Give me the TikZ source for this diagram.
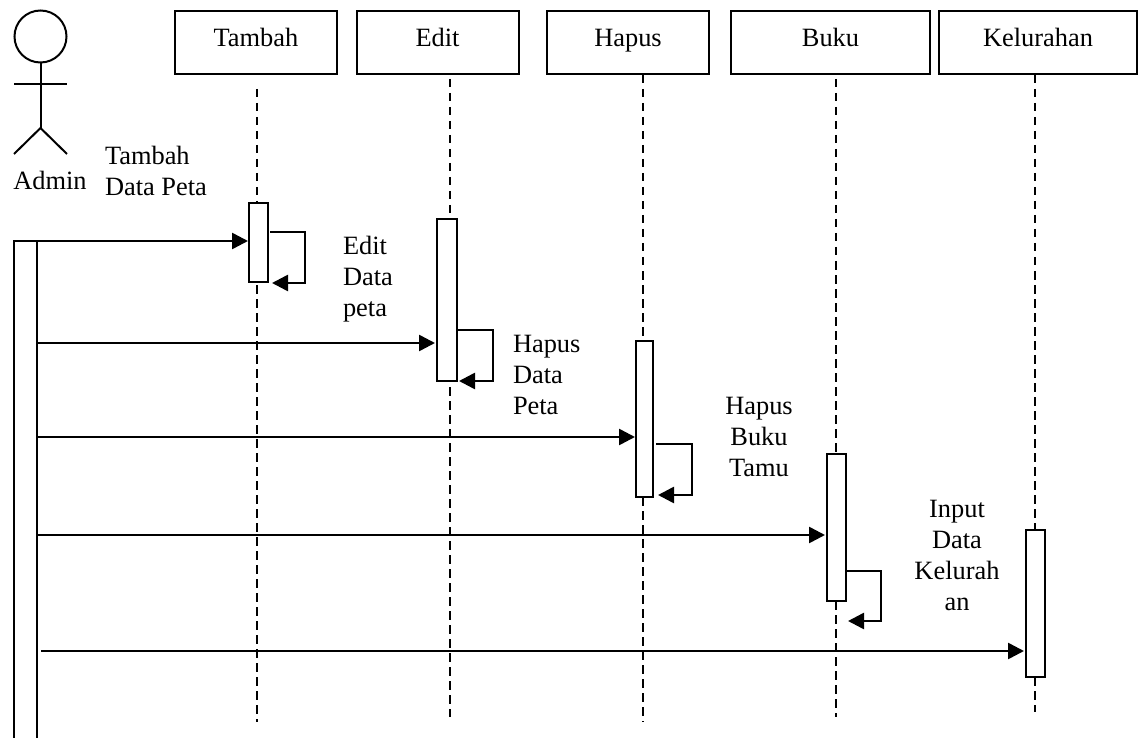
\documentclass[tikz,border=0pt]{standalone}
\usepackage{fontspec}
\setmainfont{Liberation Serif}
\usetikzlibrary{arrows.meta}
\tikzset{
  x=1pt,y=-1pt,
  base line/.style={line width=2pt,black},
  objbox/.style={draw,base line,fill=white,inner sep=0pt,outer sep=0pt,minimum width=#1,minimum height=63pt,text height=18pt,text depth=10pt,font=\fontsize{26.4}{31}\selectfont},
  actbox/.style={draw,base line,fill=white,inner sep=0pt,outer sep=0pt,minimum width=#1},
  lifeline/.style={base line,dash pattern=on 8.5pt off 5.5pt},
  msg/.style={line width=2.6pt,-{Triangle[length=16pt,width=16pt]},shorten >=1pt},
  selfmsg/.style={line width=2.6pt,-{Triangle[length=16pt,width=16pt]}},
  lbl/.style={inner sep=0pt,outer sep=0pt,font=\fontsize{26.4}{31}\selectfont},
}
\begin{document}
\begin{tikzpicture}
\useasboundingbox (0,0) rectangle (1138,738);
% object boxes
\node[objbox=162pt] (tambah) at (256,42.5) {Tambah};
\node[objbox=162pt] (edit) at (437.5,42.5) {Edit};
\node[objbox=162pt] (hapus) at (628,42.5) {Hapus};
\node[objbox=199pt] (buku) at (830.5,42.5) {Buku};
\node[objbox=198pt] (kel) at (1038,42.5) {Kelurahan};
% lifeline tops and ends
\coordinate (t1) at (257,89);
\coordinate (t2) at (450,79);
\coordinate (t3) at (643,75);
\coordinate (t4) at (836,79);
\coordinate (t5) at (1035,75);
\coordinate (e1) at (257,722);
\coordinate (e2) at (450,717);
\coordinate (e3) at (643,722);
\coordinate (e4) at (836,717);
\coordinate (e5) at (1035,712);
% activation bars
\node[actbox=19pt,minimum height=79pt] (a1) at (258.5,242.5) {};
\node[actbox=20pt,minimum height=162pt] (a2) at (447,300) {};
\node[actbox=17pt,minimum height=156pt] (a3) at (644.5,419) {};
\node[actbox=19pt,minimum height=147pt] (a4) at (836.5,527.5) {};
\node[actbox=19pt,minimum height=147pt] (a5) at (1035.5,603.5) {};
\node[actbox=23pt,minimum height=500pt] (adm) at (25.5,491) {};
% lifelines
\draw[lifeline] (t1) -- (t1 |- a1.north);
\draw[lifeline] (t1 |- a1.south) ++(0,3) -- (e1);
\draw[lifeline] (t2) -- (t2 |- a2.north);
\draw[lifeline] (t2 |- a2.south) ++(0,6) -- (e2);
\draw[lifeline] (t3) -- (t3 |- a3.north);
\draw[lifeline] (t3 |- a3.south) -- (e3);
\draw[lifeline] (t4) -- (t4 |- a4.north);
\draw[lifeline] (t4 |- a4.south) -- (e4);
\draw[lifeline] (t5) -- (t5 |- a5.north);
\draw[lifeline] (t5 |- a5.south) -- (e5);
% actor
\node[draw,base line,circle,inner sep=0pt,outer sep=0pt,minimum size=52pt] (head) at (40.5,36.5) {};
\coordinate (hip) at (40.5,128);
\coordinate (armL) at (14,84);
\coordinate (armR) at (67,84);
\coordinate (legL) at (14,154);
\coordinate (legR) at (67,154);
\draw[base line] (head.south) -- (hip);
\draw[base line] (armL) -- (armR);
\draw[base line] (legL) -- (hip) -- (legR);
\node[lbl,anchor=base] (admin) at (50,190) {Admin};
% messages
\coordinate (m1) at (17,241);
\coordinate (m2) at (37,343);
\coordinate (m3) at (37,437);
\coordinate (m4) at (37,535);
\coordinate (m5) at (41,651);
\draw[msg] (m1) -- (m1 -| a1.west);
\draw[msg,shorten >=2pt] (m2) -- (m2 -| a2.west);
\draw[msg] (m3) -- (m3 -| a3.west);
\draw[msg,shorten >=2pt] (m4) -- (m4 -| a4.west);
\draw[msg,shorten >=2pt] (m5) -- (m5 -| a5.west);
% self messages
\coordinate (s1a) at (270,232); \coordinate (s1b) at (305,283); \coordinate (s1c) at (272,283);
\coordinate (s2a) at (458,330); \coordinate (s2b) at (493,381); \coordinate (s2c) at (459,381);
\coordinate (s3a) at (656,444); \coordinate (s3b) at (692,495); \coordinate (s3c) at (658,495);
\coordinate (s4a) at (847,571); \coordinate (s4b) at (881,621); \coordinate (s4c) at (848,621);
\draw[selfmsg] (s1a) -| (s1b) -- (s1c);
\draw[selfmsg] (s2a) -| (s2b) -- (s2c);
\draw[selfmsg] (s3a) -| (s3b) -- (s3c);
\draw[selfmsg] (s4a) -| (s4b) -- (s4c);
% labels
\node[lbl,anchor=base west,align=left] (l1) at (105,195.5) {Tambah\\Data Peta};
\node[lbl,anchor=base west,align=left] (l2) at (343,316) {Edit\\Data\\peta};
\node[lbl,anchor=base west,align=left] (l3) at (513,414) {Hapus\\Data\\Peta};
\node[lbl,anchor=base,align=center] (l4) at (759,476) {Hapus\\Buku\\Tamu};
\node[lbl,anchor=base,align=center] (l5) at (957,610) {Input\\Data\\Kelurah\\an};
\end{tikzpicture}
\end{document}
